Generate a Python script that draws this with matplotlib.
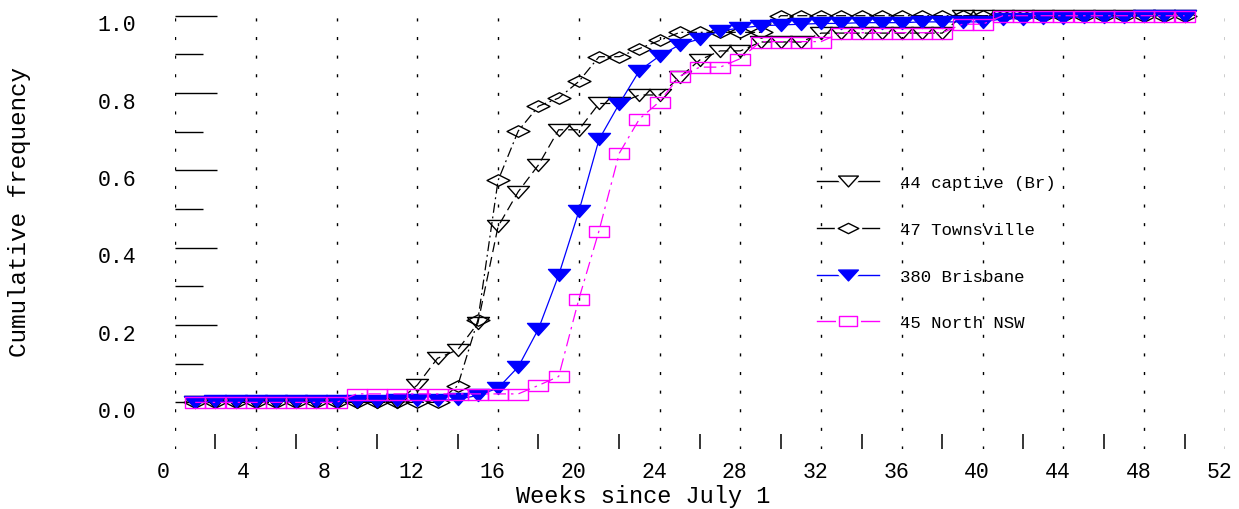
import numpy as np
import matplotlib
matplotlib.use('Agg')
import matplotlib.pyplot as plt
from matplotlib.path import Path
from matplotlib.lines import Line2D
from matplotlib.legend_handler import HandlerTuple
from matplotlib.transforms import ScaledTranslation

# weeks since July 1
weeks = np.arange(1, 51)

# cumulative frequency
captive_br = [0, 0, 0, 0, 0, 0, 0, 0, 0, 0, 0,
              0.045, 0.114, 0.136, 0.205, 0.455, 0.545, 0.614, 0.705, 0.705,
              0.773, 0.773, 0.795, 0.795, 0.841, 0.886, 0.909, 0.909, 0.932, 0.932,
              0.932, 0.955, 0.955, 0.955, 0.955, 0.955, 0.955, 0.955, 1, 1,
              1, 1, 1, 1, 1, 1, 1, 1, 1, 1]
townsville = [0, 0, 0, 0, 0, 0, 0, 0, 0, 0, 0, 0, 0,
              0.043, 0.213, 0.574, 0.702, 0.766, 0.787, 0.830,
              0.894, 0.894, 0.915, 0.936, 0.957, 0.957, 0.957, 0.957, 0.957, 1,
              1, 1, 1, 1, 1, 1, 1, 1, 1, 1,
              1, 1, 1, 1, 1, 1, 1, 1, 1, 1]
brisbane = [0, 0.003, 0.003, 0.003, 0.003, 0.003, 0.003, 0.003, 0.003, 0.003,
            0.005, 0.005, 0.005, 0.008, 0.018, 0.037, 0.092, 0.19, 0.329, 0.494,
            0.68, 0.772, 0.858, 0.896, 0.925, 0.94, 0.961, 0.968, 0.974, 0.976,
            0.978, 0.98, 0.98, 0.982, 0.982, 0.982, 0.984, 0.984, 0.984, 0.984,
            0.992, 0.992, 0.995, 0.995, 0.997, 0.997, 0.997, 1, 1, 1]
north_nsw = [0, 0, 0, 0, 0, 0, 0, 0,
             0.022, 0.022, 0.022, 0.022, 0.022, 0.022, 0.022, 0.022, 0.022,
             0.044, 0.067, 0.267, 0.444, 0.644, 0.733, 0.778, 0.844, 0.867, 0.867,
             0.889, 0.933, 0.933, 0.933, 0.933, 0.956, 0.956, 0.956, 0.956, 0.956,
             0.956, 0.978, 0.978, 1, 1, 1, 1, 1, 1, 1, 1, 1, 1]

labels = ['44 captive (Br)', '47 Townsville', '380 Brisbane', '45 North NSW']
xticks = np.arange(0, 53, 4)
xminor = np.arange(2, 51, 4)
yticks = np.arange(0, 1.01, 0.2)
yminor = np.arange(0.1, 0.91, 0.2)

# wide, flat markers like the original
tri = Path([(-1, 0.55), (1, 0.55), (0, -0.55), (-1, 0.55)],
           [Path.MOVETO, Path.LINETO, Path.LINETO, Path.CLOSEPOLY])
dia = Path([(-1, 0), (0, 0.5), (1, 0), (0, -0.5), (-1, 0)],
           [Path.MOVETO, Path.LINETO, Path.LINETO, Path.LINETO, Path.CLOSEPOLY])
rect = Path([(-1, -0.55), (1, -0.55), (1, 0.55), (-1, 0.55), (-1, -0.55)],
            [Path.MOVETO, Path.LINETO, Path.LINETO, Path.LINETO, Path.CLOSEPOLY])

plt.rcParams['font.family'] = ['Liberation Mono', 'DejaVu Sans Mono']

fig = plt.figure(figsize=(12.39, 5.10), dpi=100)
ax = fig.add_axes([175 / 1239, 60 / 510, 1050 / 1239, 433.3 / 510])

styles = [
    dict(color='black', ls=(0, (8, 4)), marker=tri, ms=15.8, mfc='none'),
    dict(color='black', ls=(0, (8, 3, 1.5, 3)), marker=dia, ms=16.5, mfc='none'),
    dict(color='#0000ff', ls='-', marker=tri, ms=15.8, mfc='#0000ff'),
    dict(color='#ff00ff', ls=(0, (10, 4, 2, 4)), marker=rect, ms=14.4, mfc='none'),
]
series = [captive_br, townsville, brisbane, north_nsw]

for vals, st in zip(series, styles):
    ax.plot(weeks, vals, color=st['color'], linestyle=st['ls'], lw=0.9,
            marker=st['marker'], markersize=st['ms'], mfc=st['mfc'],
            mec=st['color'], mew=1.0, clip_on=False)

ax.set_xlim(0, 52)
ax.set_ylim(-0.1205, 1.0)
for s in ax.spines.values():
    s.set_visible(False)

ax.set_xticks(xticks)
ax.set_xticks(xminor, minor=True)
ax.set_yticks(yticks)
ax.set_yticks(yminor, minor=True)
ax.set_yticklabels(['%.1f' % v for v in yticks])
ax.grid(axis='x', which='major', color='black', lw=1.0,
        linestyle=(0, (2.2, 11.2)))

ax.tick_params(axis='x', which='major', length=0, pad=8.4, labelsize=15.5)
ax.tick_params(axis='x', which='minor', direction='in', length=10.8, width=1.1,
               color='black')
ax.tick_params(axis='y', which='major', direction='in', length=30, width=1.0,
               pad=28, labelsize=15.5)
ax.tick_params(axis='y', which='minor', direction='in', length=20, width=1.0)

# labels sit a little off their ticks in the original
xoff = ScaledTranslation(-18.5 / 100, 0, fig.dpi_scale_trans)
for lab in ax.get_xticklabels():
    lab.set_horizontalalignment('left')
    lab.set_transform(lab.get_transform() + xoff)
yoff = ScaledTranslation(0, -6.5 / 100, fig.dpi_scale_trans)
for lab in ax.get_yticklabels():
    lab.set_transform(lab.get_transform() + yoff)

ax.set_xlabel('Weeks since July 1', fontsize=17)
ax.xaxis.set_label_coords(0.4457, -0.081)
ax.set_ylabel('Cumulative frequency', fontsize=17.5)
ax.yaxis.set_label_coords(-0.137, 0.55)

# legend: short line, gap, marker, gap, line
handles = []
for st in styles:
    ln = Line2D([], [], color=st['color'], lw=1.0)
    gap = Line2D([], [], ls='none', marker=st['marker'], markersize=st['ms'] * 0.9,
                 mfc='white', mec='white', mew=5)
    mk = Line2D([], [], ls='none', marker=st['marker'], markersize=st['ms'] * 0.9,
                mfc='white' if st['mfc'] == 'none' else st['mfc'],
                mec=st['color'], mew=1.0)
    handles.append((ln, gap, mk))
ax.legend(handles, labels, loc='upper left', frameon=False, fontsize=12.5,
          bbox_to_anchor=(817 / 1239, 1 - 176 / 510), bbox_transform=fig.transFigure,
          borderpad=0, borderaxespad=0, handlelength=3.55, handletextpad=1.25,
          labelspacing=1.82, numpoints=1,
          handler_map={tuple: HandlerTuple(ndivide=1)})

fig.savefig('out.png', dpi=100)
